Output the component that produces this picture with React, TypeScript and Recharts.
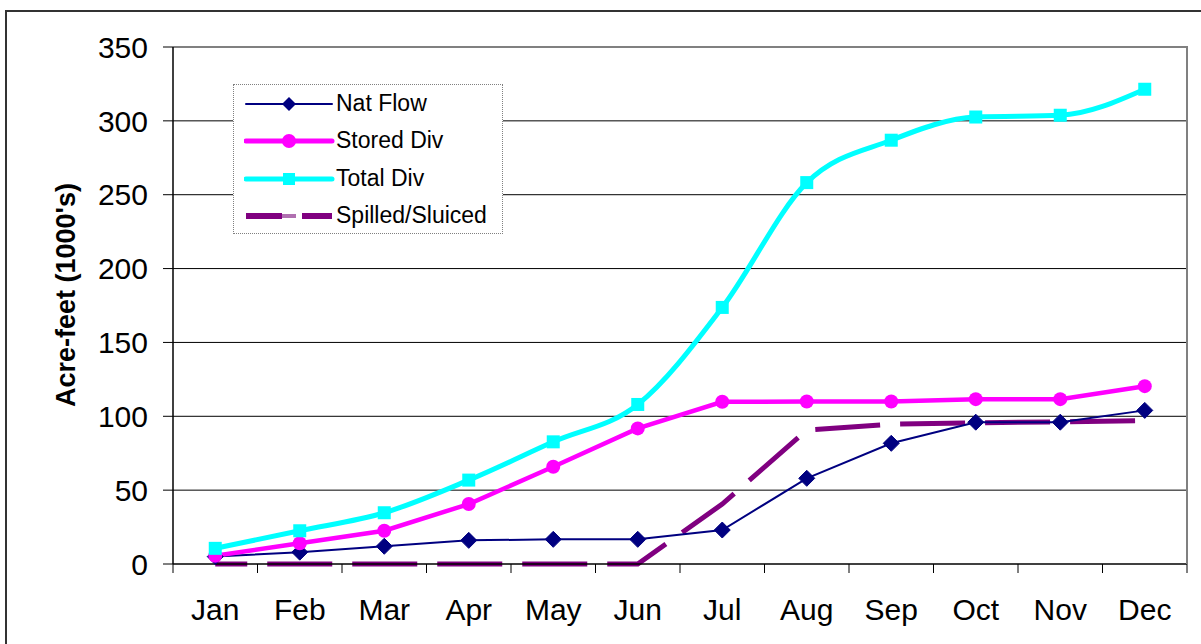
import React from "react";
import {
  CartesianGrid,
  ComposedChart,
  Legend,
  Line,
  ReferenceLine,
  XAxis,
  YAxis,
} from "recharts";

const months = ["Jan", "Feb", "Mar", "Apr", "May", "Jun", "Jul", "Aug", "Sep", "Oct", "Nov", "Dec"];
const natFlow = [5, 8, 12, 16, 16.7, 16.7, 23, 58, 81.7, 96, 96, 104];
const storedDiv = [5.6, 14, 22.5, 40.6, 65.8, 91.8, 109.8, 110, 110, 111.6, 111.6, 120.4];
const totalDiv = [10.6, 22.5, 34.7, 56.8, 82.7, 108, 173.7, 258.2, 286.9, 302.6, 303.8, 321.4];
const spilled = [0, 0, 0, 0, 0, 0, 40.6, 90.7, 94.7, 95.6, 96.3, 97];
const yTicks = [0, 50, 100, 150, 200, 250, 300, 350];

const data = months.map((m, i) => ({
  month: m,
  natFlow: natFlow[i],
  storedDiv: storedDiv[i],
  totalDiv: totalDiv[i],
  spilled: spilled[i],
}));

const FONT = '"Liberation Sans", Arial, sans-serif';
const NAVY = "#000080";
const MAGENTA = "#FF00FF";
const CYAN = "#00FFFF";
const PURPLE = "#800080";

const W = 1201;
const H = 644;
const chartW = 1189;
const margin = { top: 47, right: 2, bottom: 0, left: 0 };
const yAxisWidth = 173;
const xAxisHeight = 80;
const plotWidth = chartW - margin.right - yAxisWidth;
const plotHeight = H - margin.top - xAxisHeight;
const plotRight = yAxisWidth + plotWidth;
const band = plotWidth / months.length;

const MonthTick = (props: any) => {
  const { x, y, payload } = props;
  const last = payload.value === months[months.length - 1];
  return (
    <g>
      <line x1={x - band / 2} x2={x - band / 2} y1={y} y2={y + 9} stroke="#000" />
      {last && <line x1={x + band / 2} x2={x + band / 2} y1={y} y2={y + 9} stroke="#000" />}
      <text x={x} y={y + 56} textAnchor="middle" fontSize={30} fill="#000" fontFamily={FONT}>
        {payload.value}
      </text>
    </g>
  );
};

const Diamond = (props: any) => {
  const { cx, cy, index } = props;
  const r = 8;
  return (
    <polygon
      key={`d-${index}`}
      points={`${cx},${cy - r} ${cx + r},${cy} ${cx},${cy + r} ${cx - r},${cy}`}
      fill={NAVY}
      stroke={NAVY}
    />
  );
};

const Square = (props: any) => {
  const { cx, cy, index } = props;
  return <rect key={`s-${index}`} x={cx - 6.5} y={cy - 6.5} width={13} height={13} fill={CYAN} />;
};

const legendRows = [
  { name: "Nat Flow", color: NAVY, width: 2, marker: "diamond" },
  { name: "Stored Div", color: MAGENTA, width: 5, marker: "circle" },
  { name: "Total Div", color: CYAN, width: 5, marker: "square" },
  { name: "Spilled/Sluiced", color: PURPLE, width: 6, marker: "dash" },
];

const LegendBox = () => (
  <div
    style={{
      width: 268,
      height: 148,
      border: "1px dotted #808080",
      background: "#fff",
      position: "relative",
      fontFamily: FONT,
    }}
  >
    {legendRows.map((r, i) => {
      const cy = 19 + i * 37.3;
      return (
        <div key={r.name} style={{ position: "absolute", left: 0, top: cy - 15, height: 30, width: 268 }}>
          <svg width={100} height={30} style={{ position: "absolute", left: 10, top: 0 }}>
            {r.marker === "dash" ? (
              <>
                <line x1={2} x2={38} y1={15} y2={15} stroke={r.color} strokeWidth={r.width} />
                <line x1={38} x2={52} y1={15} y2={15} stroke="#b070b0" strokeWidth={r.width - 2} />
                <line x1={58} x2={88} y1={15} y2={15} stroke={r.color} strokeWidth={r.width} />
              </>
            ) : (
              <line x1={2} x2={88} y1={15} y2={15} stroke={r.color} strokeWidth={r.width} strokeLinecap="round" />
            )}
            {r.marker === "diamond" && <polygon points="45,8 52,15 45,22 38,15" fill={r.color} />}
            {r.marker === "circle" && <circle cx={45} cy={15} r={7} fill={r.color} />}
            {r.marker === "square" && <rect x={39} y={9} width={12} height={12} fill={r.color} />}
          </svg>
          <span
            style={{
              position: "absolute",
              left: 102,
              top: 1,
              fontSize: 23,
              lineHeight: "26px",
              color: "#000",
              whiteSpace: "nowrap",
            }}
          >
            {r.name}
          </span>
        </div>
      );
    })}
  </div>
);

const App = () => {
  return (
    <div
      style={{
        position: "absolute",
        left: 0,
        top: 0,
        width: W,
        height: H,
        overflow: "hidden",
        background: "#fff",
      }}
    >
      <div style={{ position: "absolute", left: 0, top: 0, width: plotRight + 1, height: H, overflow: "hidden" }}>
        <ComposedChart width={chartW} height={H} data={data} margin={margin} style={{ fontFamily: FONT }}>
          <CartesianGrid
            vertical={false}
            stroke="#000"
            strokeWidth={1}
            horizontalValues={[50, 100, 150, 200, 250, 300]}
          />
          <ReferenceLine y={350} stroke="#808080" strokeWidth={2} />
          <XAxis
            dataKey="month"
            scale="band"
            height={xAxisHeight}
            tickLine={false}
            tickSize={0}
            tickMargin={0}
            axisLine={{ stroke: "#000", strokeWidth: 1.5 }}
            tick={<MonthTick />}
            interval={0}
          />
          <YAxis
            width={yAxisWidth}
            domain={[0, 350]}
            ticks={yTicks}
            interval={0}
            tickSize={10}
            tickMargin={15}
            axisLine={{ stroke: "#000", strokeWidth: 1.5 }}
            tickLine={{ stroke: "#000" }}
            tick={{ fontSize: 30, fill: "#000", fontFamily: FONT }}
            label={{
              content: () => (
                <text
                  transform="translate(66,295) rotate(-90)"
                  textAnchor="middle"
                  dominantBaseline="central"
                  fontSize={27}
                  fontWeight="bold"
                  fontFamily={FONT}
                  fill="#000"
                >
                  Acre-feet (1000's)
                </text>
              ),
            }}
          />
          <Legend
            layout="vertical"
            align="center"
            verticalAlign="middle"
            wrapperStyle={{ left: 233, top: 84, width: 270 }}
            content={() => <LegendBox />}
          />
          <Line
            dataKey="spilled"
            name="Spilled/Sluiced"
            type="linear"
            stroke={PURPLE}
            strokeWidth={5}
            strokeDasharray="65 20"
            strokeDashoffset={33}
            dot={false}
            activeDot={false}
            isAnimationActive={false}
          />
          <Line
            dataKey="natFlow"
            name="Nat Flow"
            type="linear"
            stroke={NAVY}
            strokeWidth={2}
            dot={Diamond}
            activeDot={false}
            isAnimationActive={false}
          />
          <Line
            dataKey="storedDiv"
            name="Stored Div"
            type="linear"
            stroke={MAGENTA}
            strokeWidth={4.5}
            dot={{ r: 7, fill: MAGENTA, stroke: MAGENTA, strokeWidth: 0 }}
            activeDot={false}
            isAnimationActive={false}
          />
          <Line
            dataKey="totalDiv"
            name="Total Div"
            type="monotone"
            stroke={CYAN}
            strokeWidth={5}
            dot={Square}
            activeDot={false}
            isAnimationActive={false}
          />
        </ComposedChart>
      </div>
      {/* right edge of the plot frame */}
      <div
        style={{
          position: "absolute",
          left: plotRight - 1,
          top: margin.top - 1,
          width: 2,
          height: plotHeight + 1,
          background: "#808080",
        }}
      />
      {/* outer chart border */}
      <div
        style={{
          position: "absolute",
          left: 5,
          top: 10,
          width: W,
          height: H,
          borderLeft: "2px solid #333",
          borderTop: "2px solid #333",
          pointerEvents: "none",
        }}
      />
    </div>
  );
};

export default App;
